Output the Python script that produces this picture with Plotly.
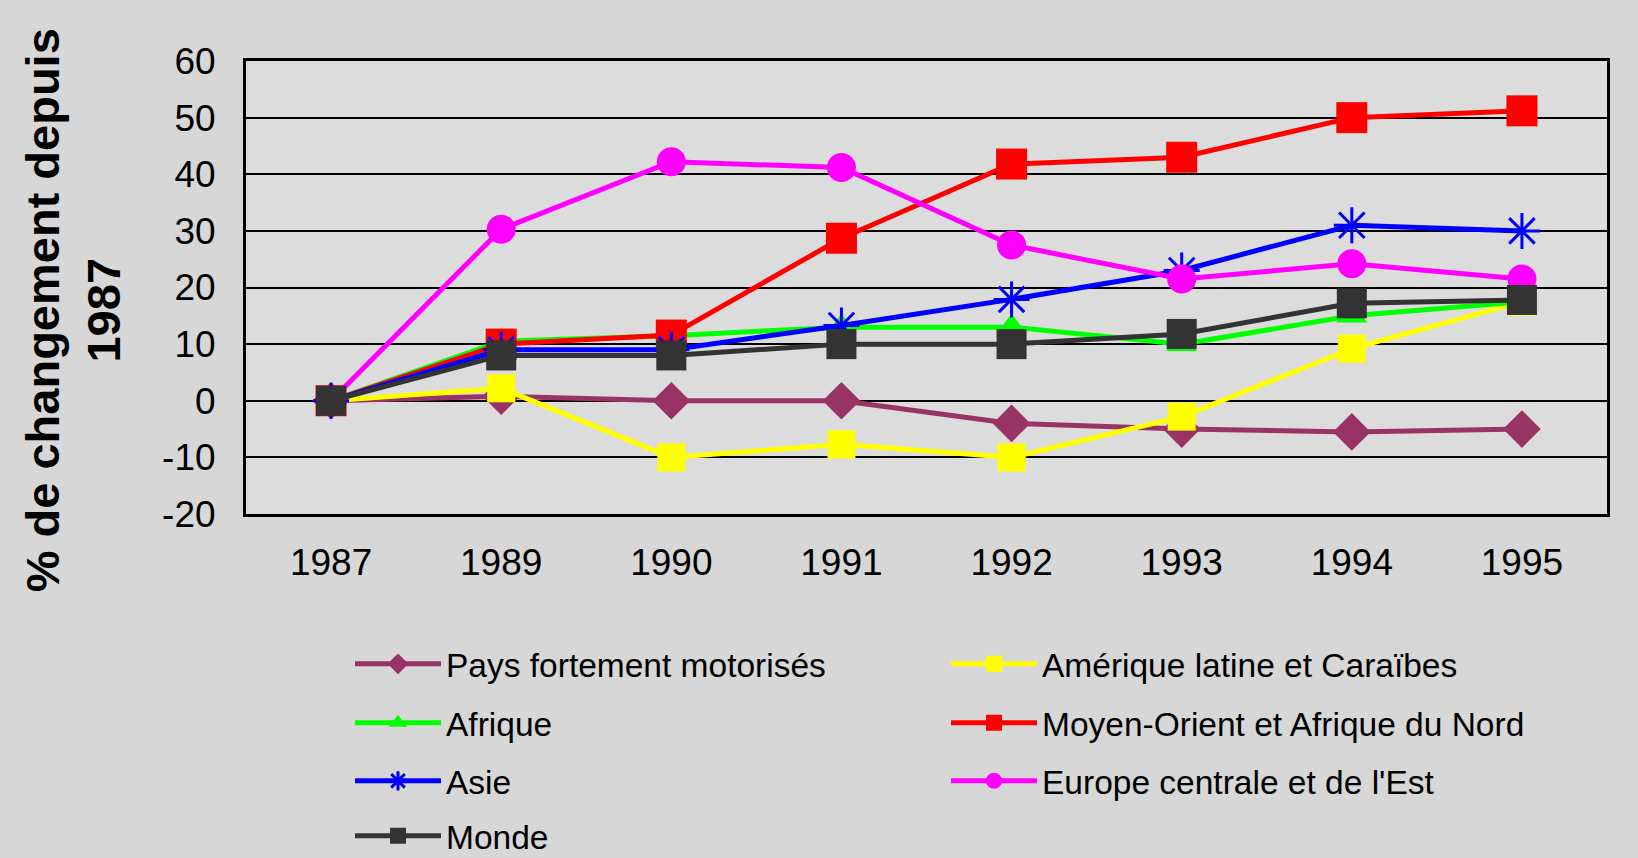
import plotly.graph_objects as go

years = ["1987", "1989", "1990", "1991", "1992", "1993", "1994", "1995"]

pays_motorises = [0, 0.8, 0, 0, -4, -5, -5.5, -5]
amerique_latine = [0, 2.2, -10, -7.7, -10, -2.8, 9.2, 17.5]
afrique = [0, 10.5, 11.5, 13, 13, 10, 15, 17.5]
moyen_orient = [0, 10, 11.6, 28.7, 41.8, 43, 50, 51.2]
asie = [0, 9, 9, 13.3, 17.9, 23, 31, 30]
europe_est = [0, 30.3, 42.2, 41.2, 27.5, 21.5, 24.2, 21.5]
monde = [0, 8, 8, 10, 10, 11.8, 17.2, 17.8]

y_tick_values = [-20, -10, 0, 10, 20, 30, 40, 50, 60]
y_tick_labels = ["-20", "-10", "0", "10", "20", "30", "40", "50", "60"]

series = [
    ("Pays fortement motorisés", pays_motorises, "#993366", "diamond", 29, "legend"),
    ("Amérique latine et Caraïbes", amerique_latine, "#ffff00", "square", 28, "legend"),
    ("Afrique", afrique, "#00ff00", "triangle-up", 27, "legend2"),
    ("Moyen-Orient et Afrique du Nord", moyen_orient, "#ff0000", "square", 31, "legend2"),
    ("Asie", asie, "#0000ff", "asterisk-open", 30, "legend3"),
    ("Europe centrale et de l'Est", europe_est, "#ff00ff", "circle", 29, "legend3"),
    ("Monde", monde, "#333333", "square", 30, "legend4"),
]

fig = go.Figure()
for name, vals, color, sym, size, leg in series:
    marker = dict(symbol=sym, size=size, color=color)
    if sym == "asterisk-open":
        marker["line"] = dict(color=color, width=3)
    else:
        marker["line"] = dict(width=0)
    fig.add_trace(go.Scatter(
        x=years, y=vals, name=name, mode="lines+markers",
        line=dict(color=color, width=5), marker=marker, legend=leg,
    ))

def row_legend(ypix):
    return dict(
        orientation="h", xref="container", yref="container",
        x=350 / 1638, y=1 - ypix / 858, xanchor="left", yanchor="middle",
        entrywidth=495, entrywidthmode="pixels",
        font=dict(size=33.5, color="black"),
        itemwidth=86, bgcolor="rgba(0,0,0,0)", borderwidth=0,
    )

fig.update_layout(
    width=1638, height=858,
    paper_bgcolor="#d7d7d7", plot_bgcolor="#dcdcdc",
    margin=dict(l=246, r=31, t=61, b=344, autoexpand=False),
    font=dict(family="Liberation Sans, Arial, sans-serif", color="black", size=37),
    showlegend=True,
    legend=row_legend(664),
    legend2=row_legend(723),
    legend3=row_legend(781),
    legend4=row_legend(836),
    xaxis=dict(
        type="category", range=[-0.5, 7.5], showgrid=False,
        ticks="outside", ticklen=14, tickcolor="rgba(0,0,0,0)",
        tickfont=dict(size=37), showline=True, linecolor="black", linewidth=3,
        mirror=True, zeroline=False,
    ),
    yaxis=dict(
        range=[-20, 60], tickvals=y_tick_values, ticktext=y_tick_labels,
        showgrid=True, gridcolor="black", gridwidth=2,
        ticks="outside", ticklen=20, tickcolor="rgba(0,0,0,0)",
        tickfont=dict(size=37), showline=True, linecolor="black", linewidth=3,
        mirror=True, zeroline=False,
    ),
    annotations=[dict(
        text="<b>% de changement depuis<br>1987</b>", textangle=-90,
        xref="paper", yref="paper", x=-0.127, y=0.45, xanchor="center", yanchor="middle",
        showarrow=False, font=dict(size=47, color="black"), align="center",
    )],
)

fig.write_html(
    "out.html",
    config={"displayModeBar": False},
    post_script="document.body.style.margin='0';document.body.style.overflow='hidden';",
)
